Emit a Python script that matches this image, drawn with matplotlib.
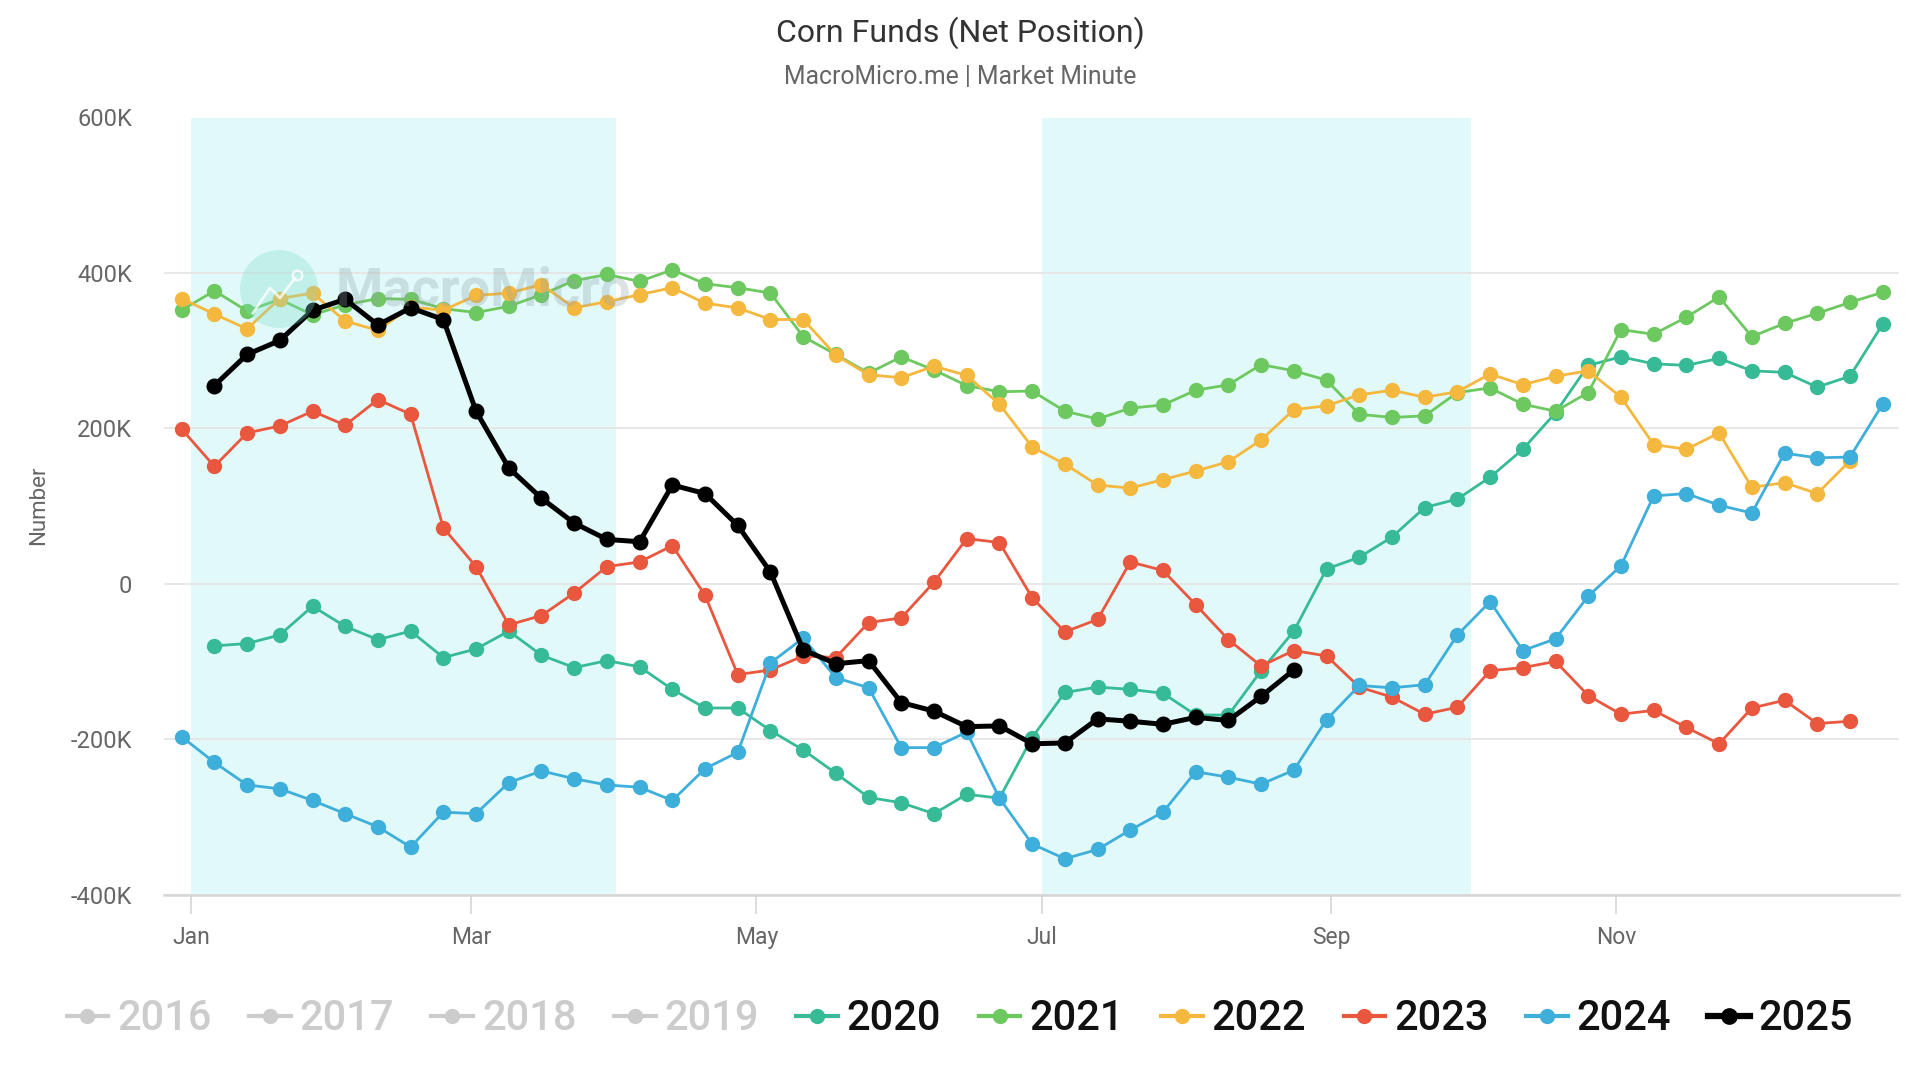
import matplotlib
matplotlib.use("Agg")
import matplotlib.pyplot as plt
import matplotlib.dates as mdates
from matplotlib.lines import Line2D
from matplotlib.patches import Ellipse
import pandas as pd

plt.rcParams['font.family'] = ['Roboto', 'DejaVu Sans']

# ---------------- data (thousands of contracts) ----------------
title = "Corn Funds (Net Position)"
subtitle = "MacroMicro.me | Market Minute"
first_week = "2019-12-30"          # first weekly slot on the common (2020) calendar
n_weeks = 53

years = [2020, 2021, 2022, 2023, 2024, 2025]
hidden_years = [2016, 2017, 2018, 2019]
start_slot = {2020: 1, 2021: 0, 2022: 0, 2023: 0, 2024: 0, 2025: 1}

v2020 = [-80, -77, -66, -29, -55, -72, -61, -95, -84, -61, -92, -108, -99, -107, -136,
         -160, -160, -189, -214, -244, -275, -282, -296, -271, -276, -198, -140, -133,
         -136, -141, -169, -169, -112, -61, 19, 34, 60, 98, 109, 137, 173, 220, 281, 292,
         283, 281, 290, 274, 272, 253, 267, 334]
v2021 = [352, 377, 351, 366, 346, 359, 367, 366, 354, 349, 357, 372, 390, 398, 389, 404,
         386, 381, 374, 318, 295, 271, 292, 275, 255, 247, 248, 222, 212, 226, 230, 249,
         256, 282, 274, 262, 218, 214, 216, 246, 252, 231, 222, 246, 327, 321, 343, 369,
         318, 335, 348, 362, 375]
v2022 = [367, 347, 328, 367, 374, 338, 326, 356, 352, 371, 374, 385, 355, 363, 372, 381,
         361, 355, 340, 340, 294, 269, 265, 280, 268, 231, 176, 154, 127, 123, 134, 145,
         157, 185, 224, 229, 243, 249, 240, 247, 270, 256, 267, 274, 240, 179, 173, 194,
         124, 130, 116, 158]
v2023 = [199, 151, 194, 203, 222, 204, 237, 218, 72, 22, -53, -41, -12, 22, 28, 49, -15,
         -117, -111, -93, -95, -50, -44, 2, 58, 53, -18, -62, -46, 28, 17, -27, -72, -106,
         -86, -93, -133, -146, -168, -159, -112, -108, -100, -144, -168, -163, -185, -206,
         -160, -150, -180, -177]
v2024 = [-197, -230, -259, -264, -279, -296, -313, -339, -294, -296, -256, -241, -251,
         -259, -262, -279, -238, -217, -102, -70, -121, -134, -211, -211, -191, -276, -335,
         -354, -342, -317, -294, -242, -249, -258, -240, -175, -131, -134, -130, -66, -23,
         -86, -71, -16, 23, 113, 116, 101, 91, 168, 162, 163, 231]
v2025 = [255, 295, 313, 352, 366, 333, 355, 340, 222, 149, 110, 78, 57, 54, 127, 116, 75,
         15, -85, -103, -99, -153, -164, -184, -183, -206, -205, -174, -177, -181, -172,
         -176, -145, -111]
values = {2020: v2020, 2021: v2021, 2022: v2022, 2023: v2023, 2024: v2024, 2025: v2025}

colors = {2020: "#37bb97", 2021: "#6dc95f", 2022: "#f5b83f", 2023: "#e9573f",
          2024: "#3eaedb", 2025: "#000000"}
hidden_color = "#cccccc"

y_ticks = [-400, -200, 0, 200, 400, 600]
y_labels = ["-400K", "-200K", "0", "200K", "400K", "600K"]
month_ticks = ["2020-01-01", "2020-03-01", "2020-05-01", "2020-07-01", "2020-09-01", "2020-11-01"]
shade_ranges = [("2020-01-01", "2020-04-01"), ("2020-07-01", "2020-10-01")]

# ---------------- figure ----------------
W, H = 1920, 1080
fig = plt.figure(figsize=(W / 100, H / 100), dpi=100)
ax = fig.add_axes([164 / W, 1 - 894.5 / H, (1899 - 164) / W, (894.5 - 117.5) / H])

weeks = pd.date_range(first_week, periods=n_weeks, freq="7D")

for a, b in shade_ranges:
    ax.axvspan(pd.Timestamp(a), pd.Timestamp(b), color="#e1f9f9", zorder=0, lw=0)

for y in years:
    vals = values[y]
    s = start_slot[y]
    x = weeks[s:s + len(vals)]
    if y == 2025:
        ax.plot(x, vals, color=colors[y], lw=3.6, marker="o", markersize=10.5,
                zorder=5, solid_joinstyle="round")
    else:
        ax.plot(x, vals, color=colors[y], lw=2.0, marker="o", markersize=10,
                zorder=3, solid_joinstyle="round")

x0 = pd.Timestamp("2020-01-01")
ax.set_xlim(x0 - pd.Timedelta(days=5.78), x0 + pd.Timedelta(days=365.5))
ax.set_ylim(-400, 600)

ax.set_yticks(y_ticks)
ax.set_yticklabels(y_labels)
ax.set_xticks([pd.Timestamp(t) for t in month_ticks])
ax.xaxis.set_major_formatter(mdates.DateFormatter("%b"))

ax.grid(axis="y", color="#e6e6e6", lw=1.3, zorder=1)
ax.set_axisbelow(True)
for sp in ["top", "right", "left"]:
    ax.spines[sp].set_visible(False)
ax.spines["bottom"].set_color("#d6d6d6")
ax.spines["bottom"].set_linewidth(1.8)
ax.tick_params(axis="y", length=0, pad=23, labelsize=17, labelcolor="#666666")
ax.tick_params(axis="x", direction="out", length=14, width=1.2, color="#d6d6d6",
               pad=9, labelsize=16.5, labelcolor="#666666")

# titles & axis label
fig.text(0.5, 1 - 33 / H, title, ha="center", va="center", fontsize=23, color="#333333")
fig.text(0.5, 1 - 77 / H, subtitle, ha="center", va="center", fontsize=17.8, color="#666666")
fig.text(39 / W, 1 - 505 / H, "Number", rotation=90, ha="center", va="center",
         fontsize=16, color="#666666")

# watermark
fig.add_artist(Ellipse((279 / W, 1 - 289 / H), 2 * 39 / W, 2 * 39 / H,
                       transform=fig.transFigure, color="#7fe0cf", alpha=0.32, lw=0, zorder=10))
icon_x = [253 / W, 270 / W, 280 / W, 295 / W]
icon_y = [1 - 313 / H, 1 - 288 / H, 1 - 298 / H, 1 - 278 / H]
fig.add_artist(Line2D(icon_x, icon_y, transform=fig.transFigure, color="white",
                      lw=2, alpha=0.75, zorder=11))
fig.add_artist(Line2D([297 / W], [1 - 275 / H], transform=fig.transFigure, color="white",
                      lw=0, marker="o", markersize=7, markerfacecolor="none",
                      markeredgewidth=1.8, alpha=0.75, zorder=11))
fig.text(336 / W, 1 - 291 / H, "MacroMicro", ha="left", va="center", fontsize=39,
         fontweight="bold", color="#8fa3aa", alpha=0.3, zorder=10)

# legend
handles, labels = [], []
for y in hidden_years:
    handles.append(Line2D([], [], color=hidden_color, lw=3, marker="o", markersize=10))
    labels.append(str(y))
for y in years:
    handles.append(Line2D([], [], color=colors[y], lw=4.5 if y == 2025 else 3,
                          marker="o", markersize=11 if y == 2025 else 10))
    labels.append(str(y))
leg = fig.legend(handles, labels, loc="center", bbox_to_anchor=(0.5, 1 - 1019 / H),
                 ncol=10, frameon=False, borderpad=0, handlelength=1.0,
                 handletextpad=0.21, columnspacing=0.9,
                 prop={"size": 30, "weight": "medium"})
for t, lab in zip(leg.get_texts(), labels):
    t.set_color(hidden_color if int(lab) in hidden_years else "#111111")

fig.savefig("out.png", dpi=100)
